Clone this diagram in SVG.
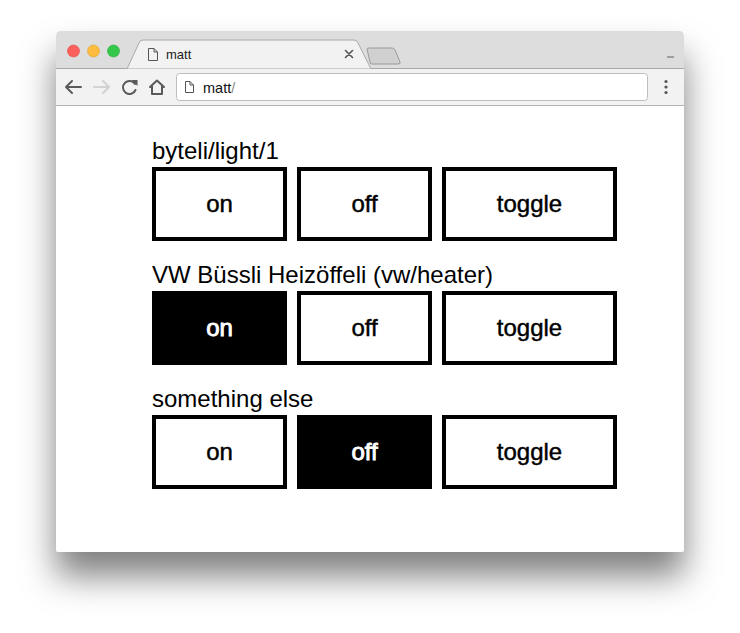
<svg xmlns="http://www.w3.org/2000/svg" width="740" height="633" viewBox="0 0 740 633">
<defs>
<filter id="shadow" x="-20%" y="-20%" width="140%" height="150%">
<feDropShadow dx="0" dy="24" stdDeviation="17" flood-color="#000" flood-opacity="0.5"/>
</filter>
<clipPath id="win"><path d="M56,36 Q56,31 61,31 L679,31 Q684,31 684,36 L684,549 Q684,552 681,552 L59,552 Q56,552 56,549 Z"/></clipPath>
</defs>
<style>
.label{font-family:"Liberation Sans",Arial,Helvetica,sans-serif;font-size:24px;fill:#000}
.btn rect{fill:#fff;stroke:#000;stroke-width:4}
.btn text{font-family:"Liberation Sans",Arial,Helvetica,sans-serif;font-size:24px;fill:#000;stroke:#000;stroke-width:0.45;text-anchor:middle}
.btn.active rect{fill:#000}
.btn.active text{fill:#fff;stroke:#fff;stroke-width:0.9}
.icon{fill:none;stroke-width:2;stroke-linecap:round;stroke-linejoin:round}
.ui{font-family:"Liberation Sans",Arial,Helvetica,sans-serif;font-size:13px;fill:#222}
</style>
<rect width="740" height="633" fill="#fff"/>
<!-- window with shadow -->
<path d="M56,36 Q56,31 61,31 L679,31 Q684,31 684,36 L684,549 Q684,552 681,552 L59,552 Q56,552 56,549 Z" fill="#fff" filter="url(#shadow)"/>
<g id="browser-chrome" clip-path="url(#win)">
<rect x="56" y="31" width="628" height="38" fill="#dddddd"/>
<!-- tab -->
<path d="M127,69 L139,43 Q140,40 143,40 L354,40 Q357,40 358,43 L371,69 Z" fill="#f2f2f2" stroke="#a8a8a8" stroke-width="1"/>
<rect x="56" y="69" width="628" height="36" fill="#f2f2f2"/>
<line x1="56" y1="68.5" x2="127" y2="68.5" stroke="#a8a8a8" stroke-width="1"/>
<line x1="371" y1="68.5" x2="684" y2="68.5" stroke="#a8a8a8" stroke-width="1"/>
<!-- new tab -->
<path d="M367,49 Q367,48 369,48 L392,48 Q394,48 395,50 L400,62 Q401,64 398,64 L372,64 Q370,64 370,62 Z" fill="#d0d0d0" stroke="#9a9a9a" stroke-width="1"/>
<!-- traffic lights -->
<circle cx="73.5" cy="51" r="6" fill="#fc605c" stroke="#de4a45" stroke-width="0.6"/>
<circle cx="93.5" cy="51" r="6" fill="#fdbc40" stroke="#dea236" stroke-width="0.6"/>
<circle cx="113.5" cy="51" r="6" fill="#34c84a" stroke="#27aa35" stroke-width="0.6"/>
<!-- tab page icon -->
<path d="M148.5,48.5 L154,48.5 L157.5,52 L157.5,60.5 L148.5,60.5 Z M154,48.5 L154,52 L157.5,52" fill="none" stroke="#555" stroke-width="1"/>
<text class="ui" x="166" y="59">matt</text>
<path d="M345.5,50.5 L352.5,57.5 M352.5,50.5 L345.5,57.5" stroke="#555" stroke-width="1.6" stroke-linecap="round"/>
<!-- minimize -->
<line x1="667" y1="57" x2="674" y2="57" stroke="#8a8a8a" stroke-width="1.5"/>
<!-- toolbar icons -->
<path class="icon" style="stroke:#5a5a5a" d="M81,87 L66,87 M72,81 L66,87 L72,93"/>
<path class="icon" style="stroke:#d2d2d2" d="M94,87 L109,87 M103,81 L109,87 L103,93"/>
<path class="icon" style="stroke:#5a5a5a" d="M135,84 A6.5,6.5 0 1 0 135.5,90"/>
<path d="M131.5,80 L137.5,80 L137.5,86 Z" fill="#5a5a5a"/>
<path class="icon" style="stroke:#5a5a5a" d="M150,87 L157,80.5 L164,87 M152,86 L152,94 L162,94 L162,86"/>
<!-- address bar -->
<rect x="176.5" y="73.5" width="471" height="27" rx="3" fill="#fff" stroke="#bdbdbd" stroke-width="1"/>
<path d="M185.5,81.5 L190,81.5 L193.5,85 L193.5,92.5 L185.5,92.5 Z M190,81.5 L190,85 L193.5,85" fill="none" stroke="#555" stroke-width="1"/>
<text x="203" y="92.5" style="font-family:'Liberation Sans',Arial,sans-serif;font-size:14.5px;fill:#111">matt<tspan fill="#888">/</tspan></text>
<!-- menu dots -->
<circle cx="666" cy="81.5" r="1.6" fill="#555"/>
<circle cx="666" cy="87" r="1.6" fill="#555"/>
<circle cx="666" cy="92.5" r="1.6" fill="#555"/>
<line x1="56" y1="105.5" x2="684" y2="105.5" stroke="#b4b4b4" stroke-width="1"/>
</g>
<!-- content -->
<g id="group-byteli">
<text class="label" x="152" y="159">byteli/light/1</text>
<g id="btn-1-on" class="btn"><rect x="154" y="169" width="131" height="70"/><text x="219.5" y="212">on</text></g>
<g id="btn-1-off" class="btn"><rect x="299" y="169" width="131" height="70"/><text x="364.5" y="212">off</text></g>
<g id="btn-1-toggle" class="btn"><rect x="444" y="169" width="171" height="70"/><text x="529.5" y="212">toggle</text></g>
</g>
<g id="group-vw">
<text class="label" x="152" y="283">VW Büssli Heizöffeli (vw/heater)</text>
<g id="btn-2-on" class="btn active"><rect x="154" y="293" width="131" height="70"/><text x="219.5" y="336">on</text></g>
<g id="btn-2-off" class="btn"><rect x="299" y="293" width="131" height="70"/><text x="364.5" y="336">off</text></g>
<g id="btn-2-toggle" class="btn"><rect x="444" y="293" width="171" height="70"/><text x="529.5" y="336">toggle</text></g>
</g>
<g id="group-else">
<text class="label" x="152" y="407">something else</text>
<g id="btn-3-on" class="btn"><rect x="154" y="417" width="131" height="70"/><text x="219.5" y="460">on</text></g>
<g id="btn-3-off" class="btn active"><rect x="299" y="417" width="131" height="70"/><text x="364.5" y="460">off</text></g>
<g id="btn-3-toggle" class="btn"><rect x="444" y="417" width="171" height="70"/><text x="529.5" y="460">toggle</text></g>
</g>
<g id="connectors"/>
</svg>
